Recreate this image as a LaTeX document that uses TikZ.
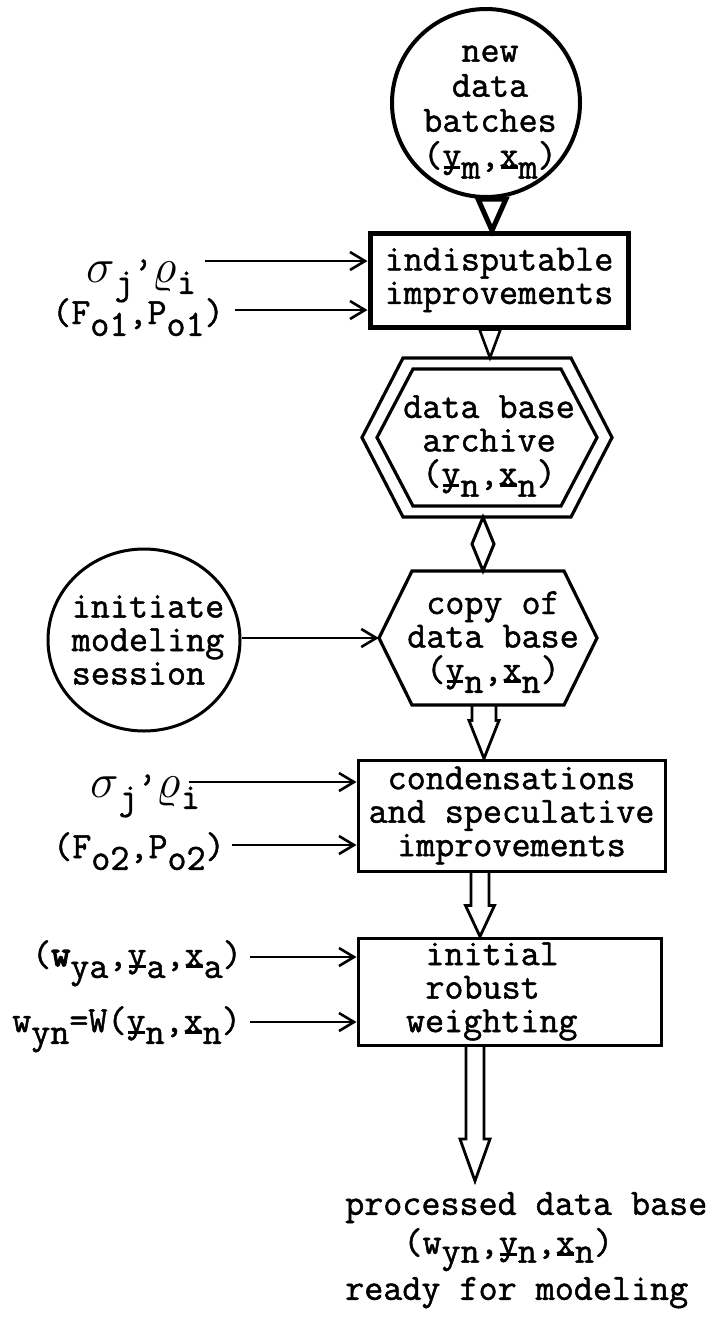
\RequirePackage{fix-cm}
\documentclass[tikz,border=0pt]{standalone}
\usepackage{fontspec}
\usetikzlibrary{arrows.meta,calc,shapes.geometric}

% typewriter face, slightly heavier than the plain mono
\newfontfamily\typew{Latin Modern Mono}[FakeBold=1.3]
\newfontfamily\typewheavy{Latin Modern Mono}[FakeBold=3.5]

% lines of typewriter text keep their spacing even with lowered subscripts
\lineskiplimit=-200pt

% typewriter half-line-down subscript, underlined vector letter, greek symbol
\newcommand\sbs[1]{\raisebox{-0.32em}{#1}}
\newcommand\sbsh[1]{\raisebox{-0.24em}{#1}}
\newcommand\uln[1]{\makebox[0pt][l]{\hspace{0.04em}\rule[-0.06em]{0.45em}{0.08em}}#1}
\newcommand\gk[1]{{\fontsize{48}{48}\selectfont$#1$}}

% hollow arrow with a double-line shaft: from, to, axis x, shaft half width, head half width, head length
\newcommand\shaftarrow[6]{%
  \draw[shaftline] let \p1=(#1), \p2=(#2) in
    (#3pt-#4pt,\y1) -- (#3pt-#4pt,\y2+#6pt) -- (#3pt-#5pt,\y2+#6pt) -- (#3pt,\y2)
    -- (#3pt+#5pt,\y2+#6pt) -- (#3pt+#4pt,\y2+#6pt) -- (#3pt+#4pt,\y1);}

% open wedge between two nodes: from, to, axis x, half width, style
\newcommand\wedgearrow[5]{%
  \draw[#5] let \p1=(#1), \p2=(#2) in
    (#3pt-#4pt,\y1) -- (#3pt+#4pt,\y1) -- (#3pt,\y2) -- cycle;}

% hexagon around a node: node, half width, half height, half length of top edge
\newcommand\hexoutline[4]{%
  \draw[hexline,shift={(#1.center)}] (-#2,0) -- (-#4,-#3) -- (#4,-#3) -- (#2,0)
    -- (#4,#3) -- (-#4,#3) -- cycle;}

\tikzset{
  every node/.style={inner sep=0pt,
    font=\typew\fontsize{37}{33.5}\selectfont},
  feed/.style={line width=2.6pt, -{Straight Barb[length=15pt,width=18pt]}},
  procbox/.style={draw, line width=3pt},
  hexline/.style={line width=3.2pt, line join=miter},
  shaftline/.style={line width=2.8pt, line join=miter},
}

\begin{document}
\begin{tikzpicture}[x=1pt,y=-1pt]
\fill[white] (0,0) rectangle (719,1317);
\path[use as bounding box] (0,0) rectangle (719,1317);

% source of new data
\node[circle, draw, line width=4pt, minimum size=188pt] (batch) at (486,103) {};
\node[align=center, font=\typew\fontsize{37}{35}\selectfont]
  (batchtxt) at (490,112) {new\\data\\batches\\(\uln{y}\sbs{m},\uln{x}\sbs{m})};

% first processing step
\node[procbox, line width=5pt, minimum width=258pt, minimum height=94pt, align=center]
  (impr) at (499,280) {indisputable\\improvements};

\node[anchor=base west] (sig1) at (86,282) {\gk{\sigma}\sbs{j}’\gk{\varrho}\sbs{i}};
\node[anchor=base west] (fo1) at (52,324) {(F\sbs{o1},P\sbs{o1})};
\coordinate (s1) at (205,261);
\coordinate (s2) at (235,310);
\draw[feed] (s1) -- (s1 -| impr.west);
\draw[feed] (s2) -- (s2 -| impr.west);

% archive
\node[minimum width=250pt, minimum height=159pt] (arch) at (487,437.5) {};
\node[align=center] (archtxt) at (489,446) {data base\\archive\\(\uln{y}\sbs{n},\uln{x}\sbs{n})};
\hexoutline{arch}{125}{79.5}{84}
\hexoutline{arch}{110}{68.5}{74}

% working copy
\node[minimum width=218pt, minimum height=134pt] (copy) at (488,638) {};
\node[align=center] (copytxt) at (493,642) {copy of\\data base\\(\uln{y}\sbs{n},\uln{x}\sbs{n})};
\hexoutline{copy}{109}{67}{76}

\node[ellipse, draw, line width=3pt, minimum width=192pt, minimum height=182pt]
  (init) at (144,640) {};
\node[align=left] (inittxt) at (148,640) {initiate\\modeling\\session};
\draw[feed] (copy.west -| init.east) -- (copy.west);

% second processing step
\node[procbox, minimum width=307pt, minimum height=111pt, align=center]
  (cond) at (511.5,815.5) {condensations\\and speculative\\improvements};
\node[anchor=base west] (sig2) at (90,797) {\gk{\sigma}\sbs{j}’\gk{\varrho}\sbs{i}};
\node[anchor=base west] (fo2) at (53,858) {(F\sbs{o2},P\sbs{o2})};
\coordinate (s3) at (189,782);
\coordinate (s4) at (232,845);
\draw[feed] (s3) -- (s3 -| cond.west);
\draw[feed] (s4) -- (s4 -| cond.west);

% weighting step
\node[procbox, minimum height=107pt, text width=207pt, inner xsep=48pt, align=left]
  (robust) at (509.5,991.5) {\hspace*{0.525em}initial\\\hspace*{0.525em}robust\\weighting};
\node[anchor=base west] (wya) at (32,966)
  {({\typewheavy w}\sbs{ya},\uln{y}\sbs{a},\uln{x}\sbs{a})};
\node[anchor=base west] (wyn) at (12,1032)
  {w\sbs{yn}=W(\uln{y}\sbs{n},\uln{x}\sbs{n})};
\coordinate (s5) at (250,957);
\coordinate (s6) at (250,1022);
\draw[feed] (s5) -- (s5 -| robust.west);
\draw[feed] (s6) -- (s6 -| robust.west);

% result
\node[anchor=north west, align=left, font=\typew\fontsize{37}{33}\selectfont]
  (out) at (345,1192) {processed data base\\[6pt]\hspace*{1.575em}(w\sbsh{yn},\uln{y}\sbsh{n},\uln{x}\sbsh{n})\\[13pt]ready for modeling};
\coordinate (outtip) at (476,1181);

% flow between the steps
\wedgearrow{batch.south}{impr.north}{492}{14}{line width=5pt, line join=miter, fill=white}
\wedgearrow{impr.south}{arch.north}{490}{10.5}{line width=2.6pt, line join=miter}
\draw[line width=3pt, line join=miter] let \p1=(arch.south), \p2=(copy.north) in
  (483pt,\y1) -- (494pt,{(\y1+\y2)/2}) -- (483pt,\y2) -- (472pt,{(\y1+\y2)/2}) -- cycle;
\shaftarrow{copy.south}{cond.north}{484}{12}{15}{38}
\shaftarrow{cond.south}{robust.north}{480}{9}{14.5}{31}
\shaftarrow{robust.south}{outtip}{475}{9}{15}{42}
\end{tikzpicture}
\end{document}
